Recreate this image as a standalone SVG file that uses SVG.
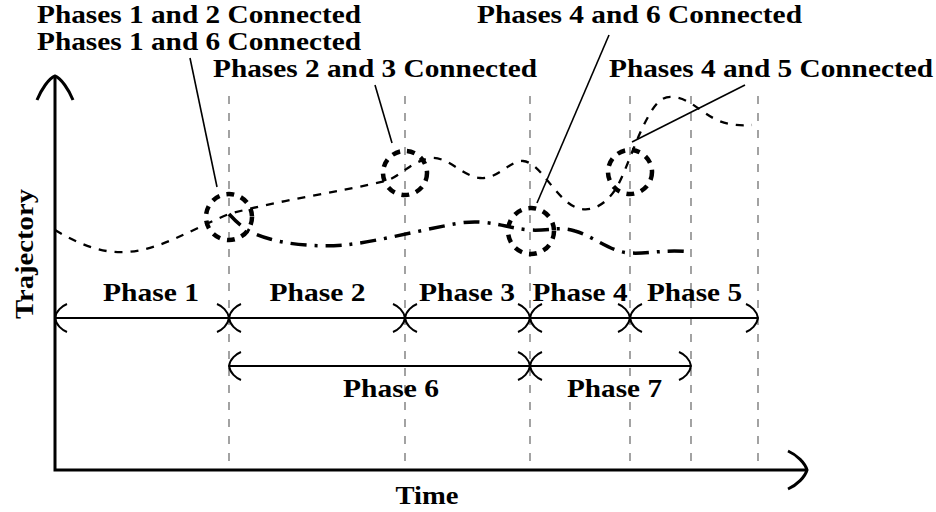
<svg xmlns="http://www.w3.org/2000/svg" width="936" height="512" viewBox="0 0 936 512" font-family="'Liberation Serif', 'DejaVu Serif', serif">
  <style>
    .t { font-weight: 700; font-size: 25px; fill: #000; }
    .axis { stroke: #000; stroke-width: 3; fill: none; }
    .guide { stroke: #666; stroke-width: 1.2; stroke-dasharray: 8 9; fill: none; }
    .span { stroke: #000; stroke-width: 2; fill: none; marker-start: url(#to); marker-end: url(#to); }
    .traj1 { stroke: #000; stroke-width: 2.3; stroke-dasharray: 8 8; fill: none; }
    .traj2 { stroke: #000; stroke-width: 3.5; stroke-dasharray: 16 8 3 8; fill: none; }
    .ring { stroke: #000; stroke-width: 4.5; stroke-dasharray: 8 7; fill: none; }
    .leader { stroke: #000; stroke-width: 1.6; fill: none; }
  </style>
  <defs>
    <marker id="to" viewBox="-20 -20 40 40" markerWidth="40" markerHeight="40" refX="0" refY="0" markerUnits="userSpaceOnUse" orient="auto-start-reverse" overflow="visible">
      <path d="M-12,-14 C-7,-12 -1,-7 0,0 C-1,7 -7,12 -12,14" fill="none" stroke="#000" stroke-width="2"/>
    </marker>
  </defs>
  <rect width="936" height="512" fill="#fff"/>

  <g id="guides">
    <line class="guide" x1="229" y1="96" x2="229" y2="470"/>
    <line class="guide" x1="405" y1="96" x2="405" y2="470"/>
    <line class="guide" x1="530" y1="96" x2="530" y2="470"/>
    <line class="guide" x1="630" y1="96" x2="630" y2="470"/>
    <line class="guide" x1="691" y1="96" x2="691" y2="470"/>
    <line class="guide" x1="758" y1="96" x2="758" y2="470"/>
  </g>

  <g id="axes">
    <path class="axis" d="M55,77 L55,470 L806,470"/>
    <path class="axis" d="M37,100 C41,90 49,78 55,76 C61,78 69,90 73,100"/>
    <path class="axis" d="M788,451 C797,455 805,463 807,470 C805,477 797,485 788,489"/>
    <text class="t" x="427" y="504" text-anchor="middle" textLength="63" lengthAdjust="spacingAndGlyphs">Time</text>
    <text class="t" transform="translate(33,254) rotate(-90)" text-anchor="middle" textLength="130" lengthAdjust="spacingAndGlyphs">Trajectory</text>
  </g>

  <g id="trajectories">
    <path class="traj1" d="M55,230 C75,242 100,254 127,252 C160,250 190,230 229,214 C280,200 340,192 385,181 C400,177 410,162 430,158 C448,156 462,176 480,178 C497,180 510,160 523,161 C540,162 555,198 575,207 C590,214 605,205 615,190 C625,175 635,140 648,117 C655,104 662,96 672,97 C690,98 700,112 717,120 C728,125 740,126 752,125"/>
    <path class="traj2" d="M229,214 C240,226 250,234 270,239 C290,245 320,247 345,245 C380,241 420,230 460,223 C490,219 505,228 530,230 C550,231 560,226 575,231 C595,237 610,252 630,253 C650,254 665,249 691,252"/>
  </g>

  <g id="phase1"><line class="span" x1="55" y1="318" x2="229" y2="318"/><text class="t" x="151" y="301" text-anchor="middle" textLength="96" lengthAdjust="spacingAndGlyphs">Phase 1</text></g>
  <g id="phase2"><line class="span" x1="229" y1="318" x2="405" y2="318"/><text class="t" x="317.5" y="301" text-anchor="middle" textLength="96" lengthAdjust="spacingAndGlyphs">Phase 2</text></g>
  <g id="phase3"><line class="span" x1="405" y1="318" x2="530" y2="318"/><text class="t" x="467" y="301" text-anchor="middle" textLength="96" lengthAdjust="spacingAndGlyphs">Phase 3</text></g>
  <g id="phase4"><line class="span" x1="530" y1="318" x2="630" y2="318"/><text class="t" x="580" y="301" text-anchor="middle" textLength="95" lengthAdjust="spacingAndGlyphs">Phase 4</text></g>
  <g id="phase5"><line class="span" x1="630" y1="318" x2="758" y2="318"/><text class="t" x="694.5" y="301" text-anchor="middle" textLength="95" lengthAdjust="spacingAndGlyphs">Phase 5</text></g>
  <g id="phase6"><line class="span" x1="229" y1="366" x2="530" y2="366"/><text class="t" x="391" y="397" text-anchor="middle" textLength="96" lengthAdjust="spacingAndGlyphs">Phase 6</text></g>
  <g id="phase7"><line class="span" x1="530" y1="366" x2="691" y2="366"/><text class="t" x="614.5" y="397" text-anchor="middle" textLength="95" lengthAdjust="spacingAndGlyphs">Phase 7</text></g>

  <g id="junction12"><circle class="ring" cx="229" cy="217" r="23"/></g>
  <g id="junction23"><circle class="ring" cx="405" cy="173" r="22"/></g>
  <g id="junction46"><circle class="ring" cx="531" cy="231" r="23"/></g>
  <g id="junction45"><circle class="ring" cx="630" cy="172" r="22"/></g>

  <g id="label12"><text class="t" x="37" y="23" textLength="324" lengthAdjust="spacingAndGlyphs">Phases 1 and 2 Connected</text></g>
  <g id="label16"><text class="t" x="37" y="50" textLength="324" lengthAdjust="spacingAndGlyphs">Phases 1 and 6 Connected</text></g>
  <g id="label23"><text class="t" x="213" y="77" textLength="324" lengthAdjust="spacingAndGlyphs">Phases 2 and 3 Connected</text></g>
  <g id="label46"><text class="t" x="477" y="23" textLength="325" lengthAdjust="spacingAndGlyphs">Phases 4 and 6 Connected</text></g>
  <g id="label45"><text class="t" x="609" y="77" textLength="324" lengthAdjust="spacingAndGlyphs">Phases 4 and 5 Connected</text></g>

  <g id="connectors">
    <line class="leader" x1="190" y1="58" x2="217" y2="187"/>
    <line class="leader" x1="375" y1="85" x2="392" y2="143"/>
    <line class="leader" x1="609" y1="35" x2="537" y2="203"/>
    <line class="leader" x1="745" y1="85" x2="632" y2="142"/>
  </g>
</svg>
